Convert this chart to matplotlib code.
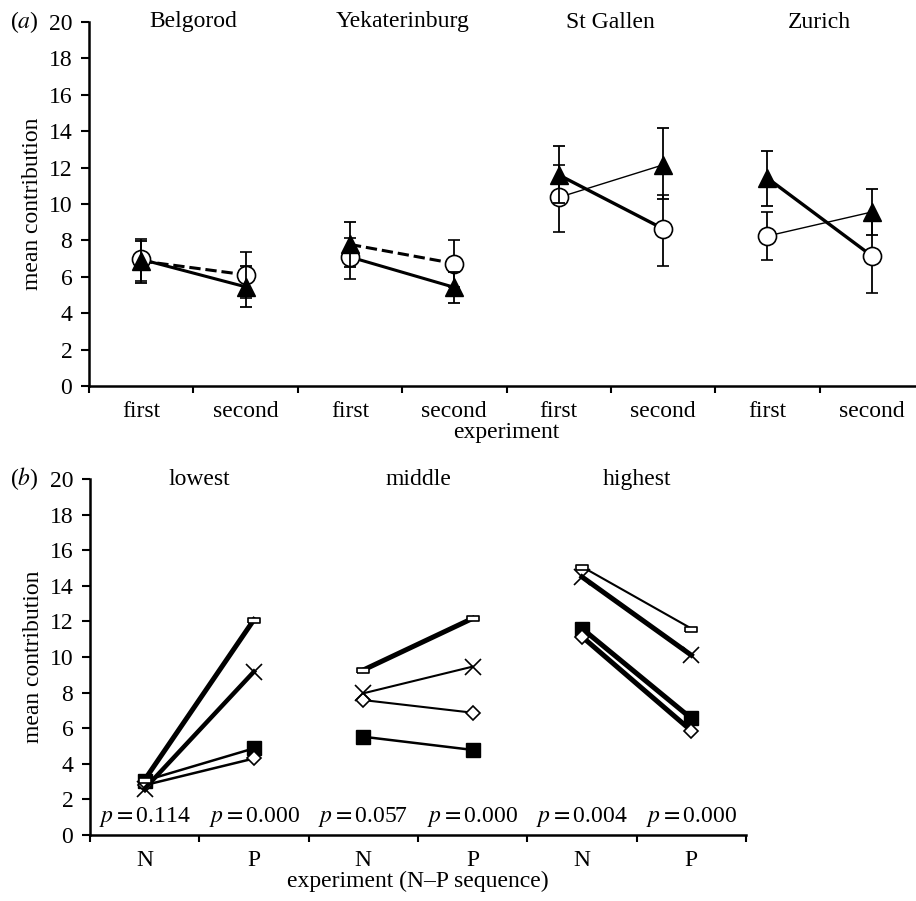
import numpy as np
import matplotlib
matplotlib.use("Agg")
import matplotlib.pyplot as plt
import matplotlib.transforms as mtransforms

plt.rcParams['font.family'] = ['Liberation Serif', 'DejaVu Serif']
plt.rcParams['mathtext.fontset'] = 'stix'
plt.rcParams['font.size'] = 17

## data, panel (a) -------------------------------------------------
cities = ["Belgorod", "Yekaterinburg", "St Gallen", "Zurich"]
exp_labels = ["first", "second"] * 4

# open circles and filled triangles, one value per experiment column
circle_vals = [6.96, 6.11, 7.09, 6.73, 10.36, 8.64, 8.24, 7.15]
circle_err_lo = [1.21, 1.25, 1.19, 1.27, 1.89, 2.06, 1.33, 2.06]
circle_err_hi = [1.09, 1.25, 1.06, 1.27, 1.79, 1.83, 1.32, 1.90]

tri_vals = [6.87, 5.45, 7.78, 5.42, 11.60, 12.15, 11.42, 9.56]
tri_err_lo = [1.23, 1.12, 1.22, 0.86, 1.56, 1.86, 1.55, 1.27]
tri_err_hi = [1.09, 1.12, 1.22, 0.86, 1.56, 2.05, 1.48, 1.26]

## data, panel (b) -------------------------------------------------
groups = ["lowest", "middle", "highest"]
seq_labels = ["N", "P"] * 3
p_values = ["0.114", "0.000", "0.057", "0.000", "0.004", "0.000"]

rect_vals = [[3.10, 12.10], [9.27, 12.17], [15.07, 11.60]]
x_vals = [[2.60, 9.18], [7.96, 9.46], [14.50, 10.10]]
diamond_vals = [[2.80, 4.30], [7.58, 6.87], [11.14, 5.86]]
square_vals = [[3.05, 4.87], [5.52, 4.78], [11.60, 6.55]]


W, H = 916, 901
fig = plt.figure(figsize=(W / 100, H / 100), dpi=100)

ax_a = fig.add_axes([89 / W, 1 - 386 / H, 835 / W, 364 / H])
ax_b = fig.add_axes([90 / W, 1 - 835 / H, 656 / W, 356 / H])


def style_axes(ax, n, labels):
    ax.set_xlim(0.5, n + 0.5)
    ax.set_ylim(0, 20)
    ax.set_yticks(np.arange(0, 21, 2))
    ax.set_xticks(np.arange(1, n + 1))
    ax.set_xticklabels(labels)
    ax.set_xticks(np.arange(0.5, n + 1, 1), minor=True)
    ax.tick_params(axis='x', which='major', length=0, pad=11)
    ax.tick_params(axis='x', which='minor', length=5, width=1.5, direction='out')
    ax.tick_params(axis='y', length=6, width=1.5, direction='out', pad=6)
    for s in ['top', 'right']:
        ax.spines[s].set_visible(False)
    for s in ['left', 'bottom']:
        ax.spines[s].set_linewidth(1.8)
    ax.set_ylabel("mean contribution")


## panel (a) -------------------------------------------------------
xa = np.arange(1, 9)
style_axes(ax_a, 8, exp_labels)

# line linking triangle(first)->circle(second), and circle(first)->triangle(second)
pn_style = [('--', 2.2), ('--', 2.2), ('-', 2.4), ('-', 2.4)]
np_style = [('-', 2.2), ('-', 2.2), ('-', 1.0), ('-', 1.0)]
for k in range(4):
    i, j = 2 * k, 2 * k + 1
    ax_a.plot([xa[i], xa[j]], [tri_vals[i], circle_vals[j]], color='black',
              linestyle=pn_style[k][0], linewidth=pn_style[k][1], zorder=2)
    ax_a.plot([xa[i], xa[j]], [circle_vals[i], tri_vals[j]], color='black',
              linestyle=np_style[k][0], linewidth=np_style[k][1], zorder=2)

ax_a.errorbar(xa, circle_vals, yerr=[circle_err_lo, circle_err_hi], fmt='o',
              markersize=13, markerfacecolor='white', markeredgecolor='black',
              markeredgewidth=1.2, ecolor='black', elinewidth=1.3, capsize=4,
              capthick=1.3, zorder=3)
ax_a.errorbar(xa, tri_vals, yerr=[tri_err_lo, tri_err_hi], fmt='^',
              markersize=13, markerfacecolor='black', markeredgecolor='black',
              ecolor='black', elinewidth=1.3, capsize=4, capthick=1.3, zorder=4)

for k, c in enumerate(cities):
    ax_a.text(2 * k + 1.5, 20, c, ha='center', va='center')
ax_a.set_xlabel("experiment", labelpad=0)

## panel (b) -------------------------------------------------------
style_axes(ax_b, 6, seq_labels)

rect_marker = [(-1, -0.45), (1, -0.45), (1, 0.45), (-1, 0.45), (-1, -0.45)]
rect_lw = [3.6, 3.6, 1.5]
x_lw = [3.2, 1.5, 3.6]
diamond_lw = [1.8, 1.5, 3.6]
square_lw = [1.8, 1.8, 3.6]

for g in range(3):
    xs = [2 * g + 1, 2 * g + 2]
    ax_b.plot(xs, square_vals[g], color='black', linewidth=square_lw[g],
              marker='s', markersize=10, markerfacecolor='black', zorder=3)
    ax_b.plot(xs, diamond_vals[g], color='black', linewidth=diamond_lw[g],
              marker='D', markersize=7, markerfacecolor='white',
              markeredgewidth=1.2, zorder=3)
    ax_b.plot(xs, x_vals[g], color='black', linewidth=x_lw[g],
              marker='x', markersize=11, markeredgewidth=1.2, zorder=3)
    ax_b.plot(xs, rect_vals[g], color='black', linewidth=rect_lw[g],
              marker=rect_marker, markersize=8, markerfacecolor='white',
              markeredgewidth=1.2, zorder=3)

for g, name in enumerate(groups):
    ax_b.text(2 * g + 1.5, 20, name, ha='center', va='center')
for i, p in enumerate(p_values):
    ax_b.text(i + 1, 1.0, r"$p = $" + p, ha='center', va='center')
ax_b.set_xlabel("experiment (N–P sequence)", labelpad=0)

## panel letters ---------------------------------------------------
for ax, letter in [(ax_a, 'a'), (ax_b, 'b')]:
    tr = mtransforms.blended_transform_factory(fig.transFigure, ax.transData)
    ax.text(10 / W, 20, "($\\it{%s}$)" % letter, transform=tr, ha='left', va='center')

fig.savefig("out.png", dpi=100)
